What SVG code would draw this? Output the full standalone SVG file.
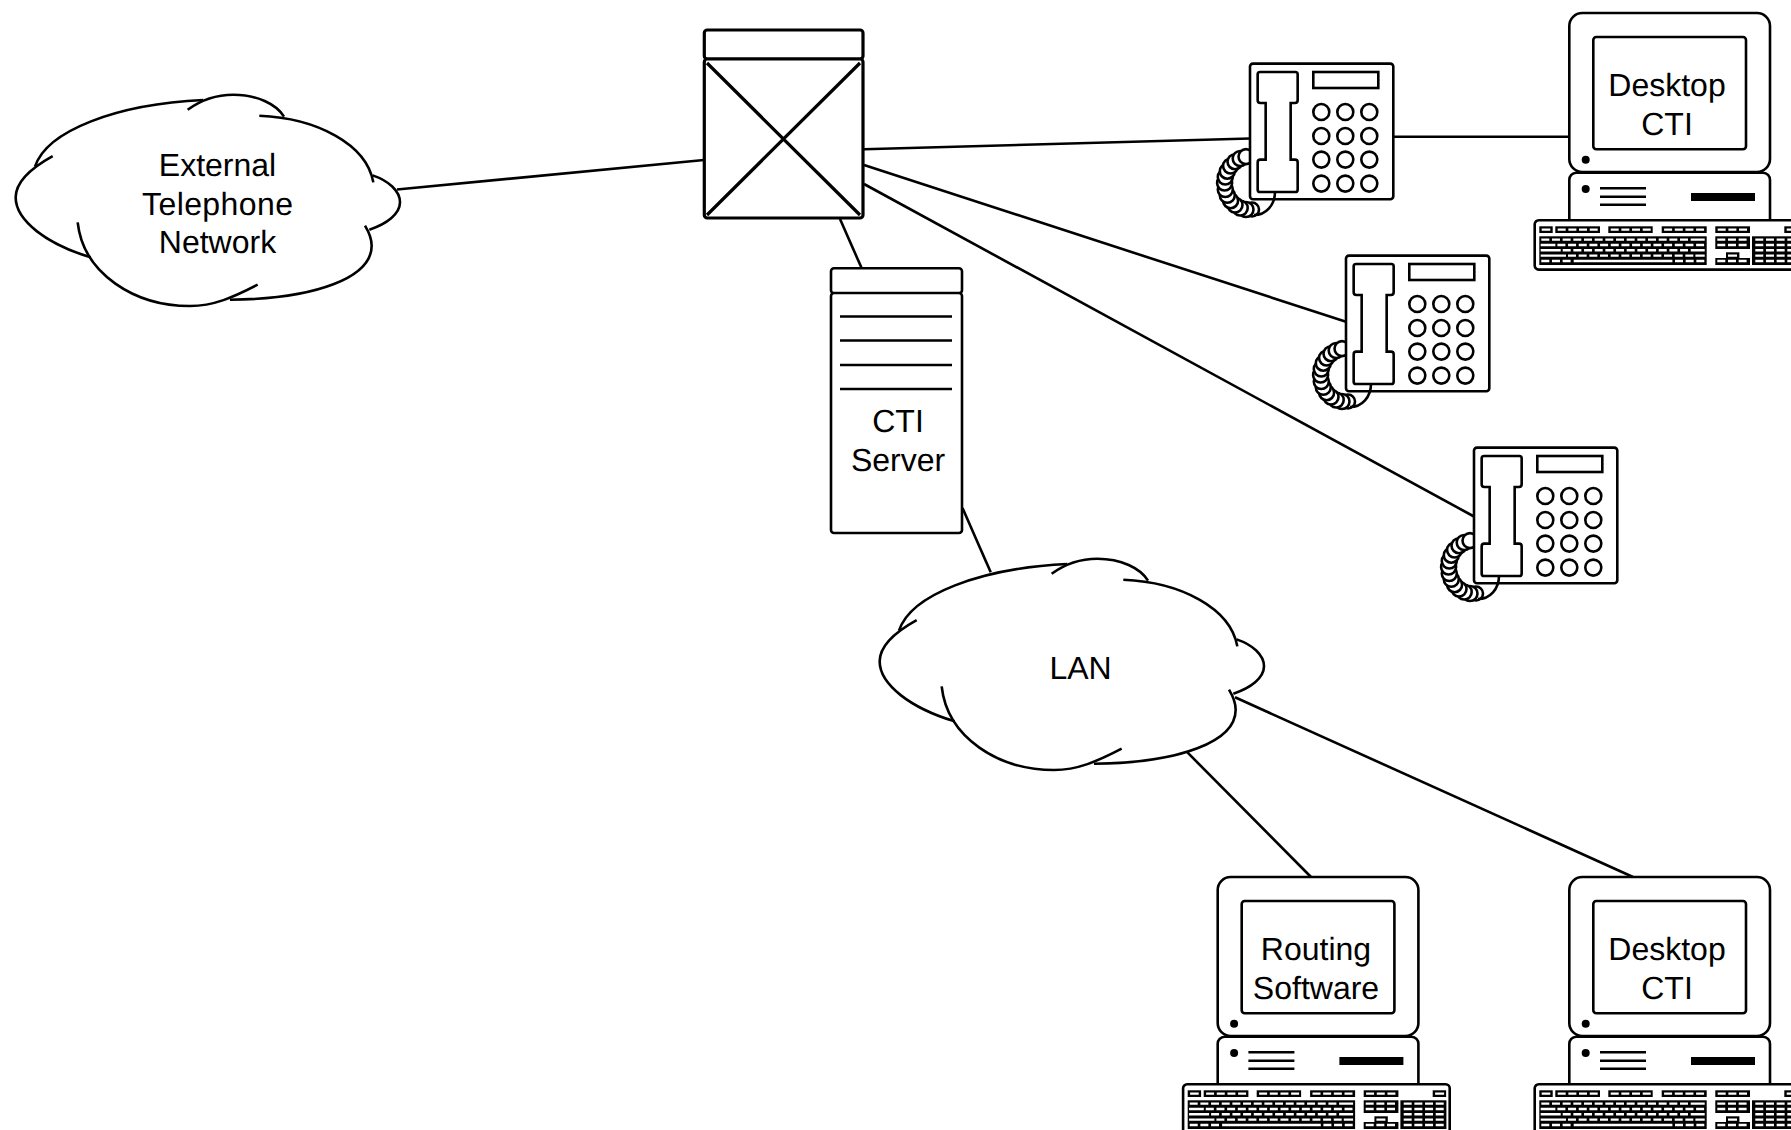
<svg xmlns="http://www.w3.org/2000/svg" xmlns:xlink="http://www.w3.org/1999/xlink" width="1791" height="1130" viewBox="0 0 1791 1130">
<style>
.l{fill:none;stroke:#000;stroke-width:2.6}
.s{fill:#fff;stroke:#000;stroke-width:2.6}
.b{fill:#fff;stroke:#000;stroke-width:3.2}
.t{fill:#000;stroke:none}
.k{fill:none;stroke:#fff;stroke-width:2.4}
.d{stroke-dasharray:8 2.67}
.c{fill:#fff;stroke:#000;stroke-width:2.6}
text{font-family:"Liberation Sans",Arial,sans-serif;font-size:32px;fill:#000;text-anchor:middle;text-rendering:geometricPrecision}
</style>
<defs>
<g id="cloud" transform="translate(0,80.7) scale(.33333)">
<path fill="#fff" d="M47,350C47,300 100,258 105,258C140,150 350,70 610,58C650,42 670,42 700,42C770,42 830,70 852,108C950,112 1100,190 1120,305C1165,300 1200,330 1200,365C1200,400 1160,430 1108,447C1110,460 1115,480 1115,495C1115,590 950,655 690,657C630,675 600,675 560,675C430,675 330,610 272,530C140,490 47,420 47,350Z"/>
<g fill="none" stroke="#000" stroke-width="7.8">
<path d="M158,226C100,258 47,300 47,350C47,420 140,490 272,530"/>
<path d="M105,258C140,150 350,70 610,58"/>
<path d="M563,87C600,60 650,42 700,42C770,42 830,70 852,108"/>
<path d="M778,105C950,112 1100,190 1120,305"/>
<path d="M1118,284C1165,300 1200,330 1200,365C1200,400 1160,430 1108,447"/>
<path d="M1095,435C1110,460 1115,480 1115,495C1115,590 950,655 690,657"/>
<path d="M773,612C700,650 640,676 570,676C405,676 250,580 233,425"/>
</g>
</g>
<g id="keyboard" transform="translate(1534.7,220.3)">
<rect class="s" width="266.6" height="49.3" rx="4"/>
<g class="t">
<rect x="4.6" y="6" width="13.4" height="6.7"/>
<rect x="20.6" y="6" width="44.7" height="6.7"/>
<rect x="73.6" y="6" width="44.4" height="6.7"/>
<rect x="127" y="6" width="45" height="6.7"/>
<rect x="180.6" y="6" width="34.7" height="6.7"/>
<rect x="249.6" y="6" width="13.4" height="6.7"/>
<rect x="4.6" y="16" width="167.4" height="28.7"/>
<rect x="180.6" y="16" width="34.7" height="12.7"/>
<rect x="191.3" y="32" width="13.4" height="7"/>
<rect x="180.6" y="37.7" width="34.7" height="7"/>
<rect x="217.3" y="16" width="46" height="28.7"/>
</g>
<path class="k" d="M7,9.3H15.6M252,9.3H261M156,19.3H170M6,24.7H20.7M6,30H26M156,30H170M6,35.3H31.3M160.7,35.3H170M39,40.7H137.7M193.3,35.3h9"/>
<path class="k d" d="M23,9.3h40M76,9.3h40M129.4,9.3h40M183,9.3h29.3M6.6,19.3h146.7M22.7,24.7h146.7M28,30h125.3M33.3,35.3h125.3M6.6,40.7h29.3M140.3,40.7h29.3M182.6,19.3h29.3M182.6,24.7h29.3M182.6,40.7h29.3M220.6,19.3h40M220.6,24.7h40M220.6,30h40M220.6,35.3h40M220.6,40.7h40"/>
</g>
<g id="computer">
<path class="s" d="M1569.3,222V180a7,7 0 0 1 7,-7.3H1763a7,7 0 0 1 7,7.3V222Z"/>
<rect class="s" x="1569.3" y="13" width="200.7" height="159" rx="13"/>
<rect class="s" x="1593.3" y="37" width="152.7" height="112.3" rx="3"/>
<circle class="t" cx="1585.7" cy="159.7" r="4"/>
<circle class="t" cx="1585.7" cy="189" r="4"/>
<path class="l" d="M1600,188.3H1646M1600,196.7H1646M1600,204.7H1646"/>
<rect class="t" x="1691" y="193" width="64" height="8"/>
<use href="#keyboard" xlink:href="#keyboard"/>
</g>
<g id="phone">
<g class="c">
<circle cx="1252" cy="209.5" r="7"/><circle cx="1246" cy="209.5" r="7.5"/><circle cx="1240.2" cy="208" r="7.5"/><circle cx="1235" cy="205" r="7.5"/><circle cx="1230.6" cy="200.7" r="7.5"/><circle cx="1227.3" cy="195.3" r="7.5"/><circle cx="1225.3" cy="189.5" r="7.5"/><circle cx="1224.6" cy="183" r="7.5"/><circle cx="1225.3" cy="177" r="7.5"/><circle cx="1227.3" cy="171.2" r="7.5"/><circle cx="1230.6" cy="166" r="7.5"/><circle cx="1235" cy="161.7" r="7.5"/><circle cx="1240.2" cy="158.5" r="7.5"/><circle cx="1246" cy="156.6" r="7.5"/>
</g>
<rect class="s" x="1250" y="63.6" width="143.3" height="135.7" rx="3"/>
<path class="l" d="M1275,191.7C1275,205 1266,215 1254,215"/>
<path transform="translate(1200,50.3) scale(.33333)" fill="#fff" stroke="#000" stroke-width="7.8" d="M180,65H286a7,7 0 0 1 7,7V150a8,8 0 0 1 -8,8H272V328H285a8,8 0 0 1 8,8V418a7,7 0 0 1 -7,7H180a7,7 0 0 1 -7,-7V336a8,8 0 0 1 8,-8H197V158H181a8,8 0 0 1 -8,-8V72a7,7 0 0 1 7,-7Z"/>
<rect class="s" x="1313.3" y="72" width="65" height="16"/>
<g class="c">
<circle cx="1321.3" cy="112" r="8"/><circle cx="1345.3" cy="112" r="8"/><circle cx="1369.3" cy="112" r="8"/>
<circle cx="1321.3" cy="136" r="8"/><circle cx="1345.3" cy="136" r="8"/><circle cx="1369.3" cy="136" r="8"/>
<circle cx="1321.3" cy="159.6" r="8"/><circle cx="1345.3" cy="159.6" r="8"/><circle cx="1369.3" cy="159.6" r="8"/>
<circle cx="1321.3" cy="183.6" r="8"/><circle cx="1345.3" cy="183.6" r="8"/><circle cx="1369.3" cy="183.6" r="8"/>
</g>
</g>
</defs>
<rect width="1791" height="1130" fill="#fff"/>
<g id="connectors" class="l">
<path d="M397,189.5L704,160"/>
<path d="M864,149.3L1250,138.5"/>
<path d="M1393.3,136.7H1569.3"/>
<path d="M864,165L1346,321.8"/>
<path d="M864,184L1474,516.5"/>
<path d="M840,219L861.7,268.3"/>
<path d="M962.5,508L990.7,572.3"/>
<path d="M1186.7,751.7L1311,877"/>
<path d="M1235,697.3L1633,877"/>
</g>
<g id="external-network">
<use href="#cloud" xlink:href="#cloud"/>
<text x="217.5" y="176">External</text>
<text x="217.5" y="215" textLength="151">Telephone</text>
<text x="217.5" y="253">Network</text>
</g>
<g id="switch">
<rect class="b" x="704.3" y="30" width="158.7" height="29" rx="3"/>
<rect class="b" x="704.3" y="59" width="158.7" height="159" rx="3"/>
<path class="b" d="M707,63L860,215M860,63L707,215"/>
</g>
<g id="cti-server">
<rect class="s" x="831" y="268.3" width="131" height="25" rx="3"/>
<rect class="s" x="831" y="293" width="131" height="240" rx="3"/>
<path class="l" d="M840,316.5H952M840,340.5H952M840,365H952M840,389H952"/>
<text x="898" y="432">CTI</text>
<text x="898" y="471">Server</text>
</g>
<g id="lan">
<use href="#cloud" xlink:href="#cloud" transform="translate(864,464)"/>
<text x="1080.5" y="678.5">LAN</text>
</g>
<g id="phone-1"><use href="#phone" xlink:href="#phone"/></g>
<g id="phone-2"><use href="#phone" xlink:href="#phone" transform="translate(96,192)"/></g>
<g id="phone-3"><use href="#phone" xlink:href="#phone" transform="translate(224,384)"/></g>
<g id="desktop-cti-1">
<use href="#computer" xlink:href="#computer"/>
<text x="1667" y="96">Desktop</text>
<text x="1667" y="134.5">CTI</text>
</g>
<g id="routing-software">
<use href="#computer" xlink:href="#computer" transform="translate(-351.6,864)"/>
<text x="1316" y="960">Routing</text>
<text x="1316" y="998.5">Software</text>
</g>
<g id="desktop-cti-2">
<use href="#computer" xlink:href="#computer" transform="translate(0,864)"/>
<text x="1667" y="960">Desktop</text>
<text x="1667" y="998.5">CTI</text>
</g>
</svg>
